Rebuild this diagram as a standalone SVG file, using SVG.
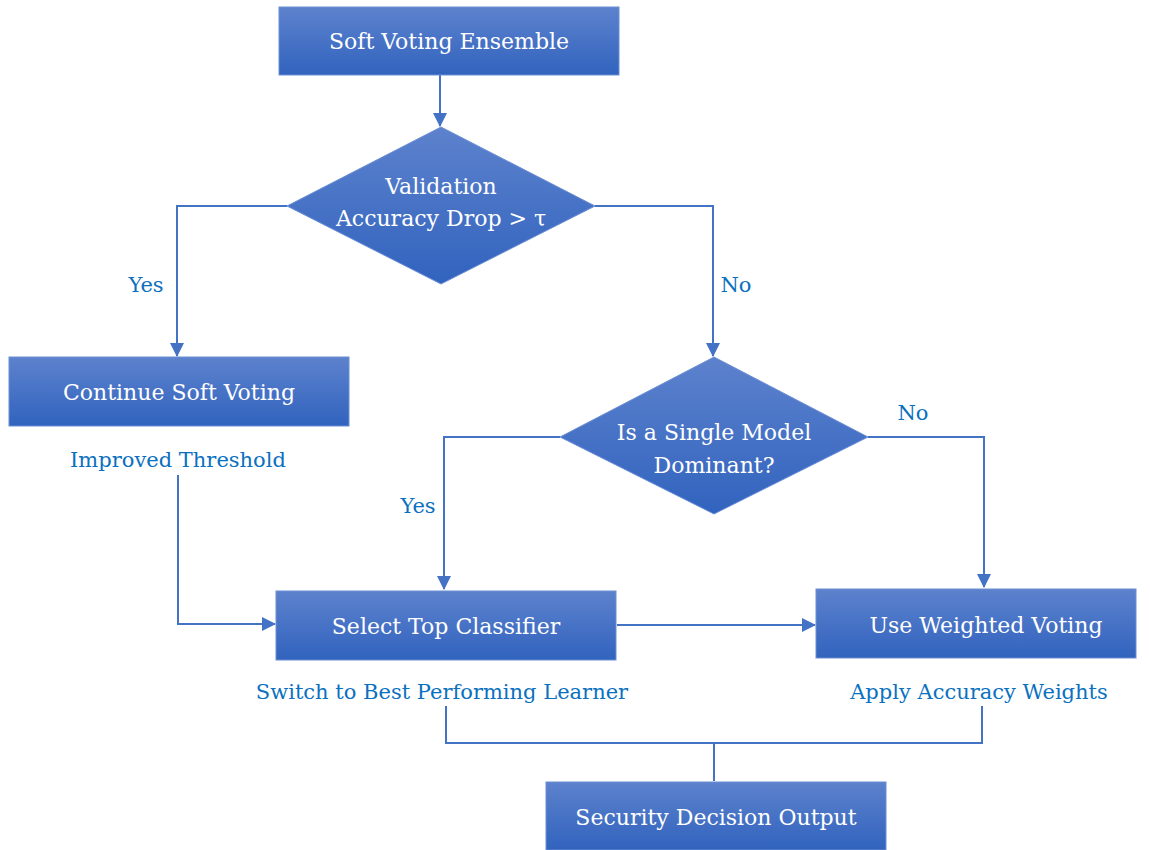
<svg xmlns="http://www.w3.org/2000/svg" width="1150" height="850" viewBox="0 0 1150 850">
<defs>
<linearGradient id="g" x1="0" y1="0" x2="0" y2="1">
<stop offset="0" stop-color="#5d82cd"/>
<stop offset="1" stop-color="#3163be"/>
</linearGradient>
<marker id="a" markerWidth="14" markerHeight="14" refX="13" refY="7" orient="auto" markerUnits="userSpaceOnUse">
<path d="M0,0 L14,7 L0,14 Z" fill="#4472c4"/>
</marker>
<style>
.n{fill:url(#g);stroke:#6d8fd4;stroke-width:1}
.t{font-family:'DejaVu Serif',serif;font-size:22px;fill:#ffffff;text-anchor:middle}
.l{font-family:'DejaVu Serif',serif;font-size:21px;fill:#0a70c0;text-anchor:middle}
.c{fill:none;stroke:#4472c4;stroke-width:2}
</style>
</defs>
<rect width="1150" height="850" fill="#ffffff"/>
<g id="connectors">
<path class="c" d="M440,75 V126" marker-end="url(#a)"/>
<path class="c" d="M287,206 H177 V356" marker-end="url(#a)"/>
<path class="c" d="M595,206 H713 V356" marker-end="url(#a)"/>
<path class="c" d="M178,475 V624 H275" marker-end="url(#a)"/>
<path class="c" d="M560,437 H444 V589" marker-end="url(#a)"/>
<path class="c" d="M868,437 H984 V587" marker-end="url(#a)"/>
<path class="c" d="M617,625 H815" marker-end="url(#a)"/>
<path class="c" d="M446,706 V743 H982 V706 M714,743 V781"/>
</g>
<g id="n1"><rect class="n" x="279" y="7" width="340" height="68"/><text class="t" x="449" y="49">Soft Voting Ensemble</text></g>
<g id="n2"><polygon class="n" points="441,127 595,206 441,284 287,206"/><text class="t" x="441" y="194">Validation</text><text class="t" x="441" y="226">Accuracy Drop &gt; τ</text></g>
<g id="n3"><rect class="n" x="9" y="357" width="340" height="69"/><text class="t" x="179" y="400">Continue Soft Voting</text></g>
<g id="n4"><polygon class="n" points="714,357 868,437 714,514 560,437"/><text class="t" x="714" y="440">Is a Single Model</text><text class="t" x="714" y="473">Dominant?</text></g>
<g id="n5"><rect class="n" x="276" y="591" width="340" height="69"/><text class="t" x="446" y="634">Select Top Classifier</text></g>
<g id="n6"><rect class="n" x="816" y="589" width="320" height="69"/><text class="t" x="986" y="633">Use Weighted Voting</text></g>
<g id="n7"><rect class="n" x="546" y="782" width="340" height="68"/><text class="t" x="716" y="825">Security Decision Output</text></g>
<g id="labels">
<text class="l" x="146" y="292">Yes</text>
<text class="l" x="736" y="292">No</text>
<text class="l" x="913" y="420">No</text>
<text class="l" x="418" y="513">Yes</text>
<text class="l" x="178" y="467">Improved Threshold</text>
<text class="l" x="442" y="699">Switch to Best Performing Learner</text>
<text class="l" x="979" y="699">Apply Accuracy Weights</text>
</g>
</svg>
